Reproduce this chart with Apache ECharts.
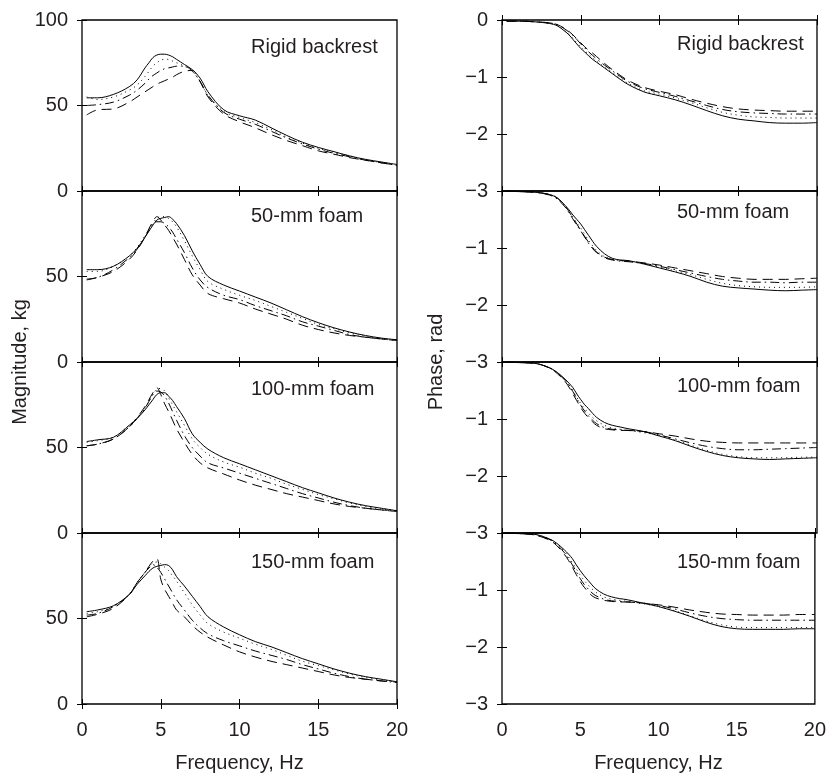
<!DOCTYPE html>
<html>
<head>
<meta charset="utf-8">
<script src="https://cdn.jsdelivr.net/npm/echarts@6/dist/echarts.min.js"></script>
<style>html,body{margin:0;padding:0;background:#fff;}#chart{width:829px;height:776px;}</style>
</head>
<body>
<div id="chart"></div>
<script>
// Frequency grid (Hz)
const freq = [0.3, 1, 2, 3, 3.5, 4, 4.25, 4.5, 4.75, 5, 5.25, 5.5, 5.75, 6, 6.5, 7, 7.5, 8, 9, 10, 11, 12, 13, 14, 15, 16, 17, 18, 19, 20];

const panelTitles = ['Rigid backrest', '50-mm foam', '100-mm foam', '150-mm foam'];
const magTicks = [0, 50, 100];
const phaseTicks = [-3, -2, -1, 0];
const freqTicks = [0, 5, 10, 15, 20];

// Magnitude, kg
const magRigidSolid   = [54.5, 54.5, 56.5, 61, 65, 72, 75, 78, 79.5, 80, 80, 79.5, 78.5, 77, 74, 71, 66, 58, 47.5, 44, 41.5, 37, 32.5, 28.5, 25.5, 23, 20.5, 18.5, 17, 15.5];
const magRigidDotted  = [55, 53.5, 55, 59, 62, 67, 70, 73, 75, 76.5, 77, 77, 76, 75, 73, 70, 64, 56, 46.5, 43, 40, 36, 31.5, 28, 25, 22.5, 20.5, 18.5, 16.5, 15];
const magRigidDashDot = [50, 50.5, 52, 56, 59, 63, 65.5, 67.5, 69, 70.5, 71.5, 72, 72.5, 73, 73, 70, 64, 56, 46, 42, 39, 35, 31, 27.5, 24.5, 22, 20, 18, 16.5, 15];
const magRigidDashed  = [44.5, 47.5, 48, 52, 55, 58, 59.5, 61, 62.5, 63.5, 64.5, 65.5, 66.5, 68, 70, 70.5, 64, 55, 45, 40.5, 37, 33, 29.5, 26.5, 23.5, 21.5, 19.5, 18, 16.5, 15];

const mag50Solid   = [54, 54, 56, 62, 66.5, 73, 76.5, 80, 83, 84, 84.5, 85, 83.5, 81, 74, 65, 57, 50, 45, 41.5, 38, 34.5, 30.5, 26.5, 23, 20, 17.5, 15.5, 14, 13];
const mag50Dotted  = [53, 53, 56, 62, 67, 74, 77.5, 81, 84, 85, 85, 84, 82, 79, 71, 62, 54, 47, 42.5, 39, 36, 32.5, 29, 25.5, 22, 19.5, 17, 15, 13.5, 12.5];
const mag50DashDot = [48.5, 49.5, 54, 61, 66, 73, 77, 80.5, 82, 82, 81, 79, 76, 72, 64, 55, 48, 43.5, 39, 36.5, 33, 30, 27, 23.5, 21, 18.5, 16, 14.5, 13.5, 12.5];
const mag50Dashed  = [48, 49.5, 53, 60, 65.5, 73, 78, 82, 85, 83, 80, 77, 73, 69, 60, 51, 45, 40, 37, 34.5, 31, 28, 25, 21.5, 19, 17, 15.5, 14.5, 13.5, 13];

const mag100Solid   = [53.5, 54.5, 56, 63, 67, 72, 75, 78, 81, 82, 82, 80, 77.5, 74, 67, 58, 53, 49, 44, 40.5, 37, 33.5, 30, 26.5, 23.5, 20.5, 18, 16, 14.5, 13];
const mag100Dotted  = [53, 54, 56, 63, 67.5, 73, 77, 81, 84, 84.5, 83, 79, 75, 71, 63, 55, 50, 46, 41.5, 38.5, 35, 32, 28.5, 25.5, 22.5, 20, 17.5, 15.5, 14, 13];
const mag100DashDot = [51, 52, 55, 62, 67, 73, 77, 81, 83, 82.5, 80, 76, 71, 66, 57, 50, 45, 41, 38, 35, 32, 29, 26, 23, 20.5, 18, 16, 14.5, 13.5, 12.5];
const mag100Dashed  = [51, 52, 55, 62, 67.5, 74, 78, 82, 85, 81, 75.5, 71, 66, 61, 53, 46, 41, 38, 34.5, 31, 28, 25.5, 23, 21, 19, 17, 15.5, 14.5, 13.5, 13];

const mag150Solid   = [54, 55, 57.5, 64, 70, 75, 77.5, 79.5, 80.5, 81, 81.5, 81, 78.5, 74.5, 69, 63, 57, 51, 45, 40.5, 36.5, 33.5, 30, 26.5, 23.5, 20.5, 18, 16, 14.5, 13];
const mag150Dotted  = [53, 54, 57, 64, 71, 77, 80, 82.5, 83, 82, 80, 78, 75, 72, 65, 58, 52, 47, 42, 38.5, 35, 32, 28.5, 25, 22.5, 20, 17.5, 15.5, 14, 13];
const mag150DashDot = [52, 53, 57, 64, 71, 77, 79.5, 81.5, 80, 77, 73, 69, 65, 61, 55, 49, 44.5, 41, 37, 34, 31, 28.5, 26, 23, 20.5, 18, 16, 14.5, 13.5, 12.5];
const mag150Dashed  = [51, 52.5, 56, 64, 71, 77, 80.5, 83.5, 85, 73, 67, 63, 59, 55, 51, 46, 42, 39, 34.5, 30.5, 27.5, 25, 23, 21, 19, 17, 15.5, 14.5, 13.5, 12.8];

// Phase, rad
const phRigidSolid   = [-0.02, -0.02, -0.03, -0.06, -0.1, -0.2, -0.26, -0.34, -0.42, -0.5, -0.56, -0.63, -0.69, -0.74, -0.84, -0.94, -1.04, -1.13, -1.26, -1.33, -1.4, -1.49, -1.59, -1.68, -1.74, -1.77, -1.8, -1.81, -1.81, -1.8];
const phRigidDotted  = [-0.02, -0.02, -0.03, -0.06, -0.1, -0.19, -0.25, -0.32, -0.4, -0.47, -0.54, -0.6, -0.66, -0.72, -0.82, -0.92, -1.02, -1.11, -1.24, -1.3, -1.37, -1.45, -1.54, -1.62, -1.67, -1.7, -1.71, -1.72, -1.72, -1.72];
const phRigidDashDot = [-0.02, -0.02, -0.03, -0.05, -0.08, -0.16, -0.21, -0.27, -0.34, -0.42, -0.49, -0.56, -0.62, -0.68, -0.79, -0.89, -0.99, -1.08, -1.2, -1.27, -1.34, -1.42, -1.5, -1.57, -1.61, -1.63, -1.64, -1.65, -1.65, -1.65];
const phRigidDashed  = [-0.02, -0.02, -0.03, -0.05, -0.08, -0.15, -0.2, -0.26, -0.33, -0.4, -0.47, -0.53, -0.58, -0.64, -0.76, -0.87, -0.97, -1.06, -1.18, -1.25, -1.31, -1.39, -1.46, -1.52, -1.56, -1.58, -1.59, -1.6, -1.6, -1.6];

const ph50Solid   = [0, -0.01, -0.02, -0.06, -0.12, -0.25, -0.33, -0.42, -0.5, -0.58, -0.68, -0.78, -0.88, -0.97, -1.1, -1.18, -1.21, -1.22, -1.28, -1.35, -1.42, -1.5, -1.6, -1.67, -1.7, -1.72, -1.74, -1.75, -1.74, -1.73];
const ph50Dotted  = [0, -0.01, -0.02, -0.06, -0.13, -0.27, -0.36, -0.46, -0.56, -0.65, -0.76, -0.87, -0.96, -1.04, -1.15, -1.2, -1.22, -1.23, -1.28, -1.34, -1.4, -1.47, -1.55, -1.62, -1.66, -1.68, -1.69, -1.69, -1.69, -1.68];
const ph50DashDot = [0, -0.01, -0.02, -0.07, -0.14, -0.28, -0.38, -0.49, -0.6, -0.7, -0.81, -0.92, -1.01, -1.08, -1.17, -1.21, -1.23, -1.24, -1.27, -1.32, -1.38, -1.44, -1.5, -1.55, -1.58, -1.6, -1.6, -1.61, -1.6, -1.6];
const ph50Dashed  = [0, -0.01, -0.02, -0.06, -0.12, -0.26, -0.36, -0.47, -0.58, -0.69, -0.8, -0.9, -0.99, -1.07, -1.16, -1.2, -1.22, -1.23, -1.26, -1.3, -1.35, -1.4, -1.45, -1.5, -1.53, -1.55, -1.55, -1.55, -1.54, -1.53];

const ph100Solid   = [0, -0.01, -0.02, -0.1, -0.18, -0.3, -0.37, -0.45, -0.56, -0.66, -0.75, -0.82, -0.9, -0.97, -1.06, -1.11, -1.14, -1.17, -1.22, -1.3, -1.38, -1.48, -1.57, -1.64, -1.68, -1.7, -1.71, -1.7, -1.69, -1.68];
const ph100Dotted  = [0, -0.01, -0.02, -0.1, -0.19, -0.32, -0.4, -0.5, -0.62, -0.73, -0.82, -0.9, -0.97, -1.03, -1.11, -1.16, -1.18, -1.2, -1.24, -1.29, -1.37, -1.46, -1.55, -1.62, -1.66, -1.68, -1.68, -1.68, -1.67, -1.67];
const ph100DashDot = [0, -0.01, -0.02, -0.1, -0.19, -0.32, -0.41, -0.52, -0.64, -0.76, -0.86, -0.95, -1.02, -1.08, -1.15, -1.18, -1.19, -1.2, -1.22, -1.28, -1.35, -1.42, -1.48, -1.52, -1.54, -1.54, -1.53, -1.52, -1.51, -1.5];
const ph100Dashed  = [0, -0.01, -0.02, -0.1, -0.2, -0.34, -0.44, -0.56, -0.68, -0.8, -0.9, -0.98, -1.05, -1.11, -1.17, -1.19, -1.2, -1.2, -1.22, -1.26, -1.3, -1.35, -1.39, -1.41, -1.42, -1.42, -1.42, -1.42, -1.42, -1.42];

const ph150Solid   = [0, -0.01, -0.02, -0.1, -0.18, -0.3, -0.37, -0.45, -0.56, -0.66, -0.75, -0.83, -0.91, -0.98, -1.07, -1.12, -1.15, -1.17, -1.23, -1.29, -1.37, -1.46, -1.56, -1.64, -1.68, -1.69, -1.69, -1.69, -1.68, -1.68];
const ph150Dotted  = [0, -0.01, -0.02, -0.1, -0.19, -0.33, -0.42, -0.52, -0.63, -0.74, -0.83, -0.91, -0.98, -1.04, -1.12, -1.16, -1.18, -1.2, -1.24, -1.29, -1.36, -1.45, -1.54, -1.61, -1.65, -1.66, -1.66, -1.66, -1.66, -1.66];
const ph150DashDot = [0, -0.01, -0.03, -0.11, -0.2, -0.35, -0.45, -0.56, -0.68, -0.8, -0.9, -0.98, -1.05, -1.1, -1.16, -1.19, -1.2, -1.21, -1.23, -1.27, -1.33, -1.4, -1.46, -1.5, -1.52, -1.53, -1.53, -1.53, -1.53, -1.53];
const ph150Dashed  = [0, -0.01, -0.03, -0.12, -0.22, -0.38, -0.48, -0.6, -0.73, -0.85, -0.95, -1.03, -1.1, -1.14, -1.18, -1.2, -1.21, -1.21, -1.23, -1.26, -1.3, -1.35, -1.39, -1.42, -1.43, -1.44, -1.44, -1.44, -1.43, -1.43];

const magPanels = [
  [magRigidSolid, magRigidDotted, magRigidDashDot, magRigidDashed],
  [mag50Solid, mag50Dotted, mag50DashDot, mag50Dashed],
  [mag100Solid, mag100Dotted, mag100DashDot, mag100Dashed],
  [mag150Solid, mag150Dotted, mag150DashDot, mag150Dashed]
];
const phPanels = [
  [phRigidSolid, phRigidDotted, phRigidDashDot, phRigidDashed],
  [ph50Solid, ph50Dotted, ph50DashDot, ph50Dashed],
  [ph100Solid, ph100Dotted, ph100DashDot, ph100Dashed],
  [ph150Solid, ph150Dotted, ph150DashDot, ph150Dashed]
];

// ---- layout / style ----
const FONT = '"Liberation Sans", Arial, Helvetica, sans-serif';
const TXT = '#231f20';
const FS = 20;
const lineTypes = ['solid', [1, 4], [9, 4, 1.5, 4], [10, 6]];
const colLeft = [82, 502];
const gridW = 315;
const gridTop = 20;
const gridH = 171;
const titleDy = [[29, 27, 29, 31], [26, 23, 26, 31]];

const grids = [], xAxes = [], yAxes = [], series = [], graphics = [];
const pair = (arr) => arr.map((v, i) => [freq[i], v]);
const fmtMinus = (v) => String(v).replace('-', '\u2212');

for (let c = 0; c < 2; c++) {
  for (let r = 0; r < 4; r++) {
    const g = grids.length;
    grids.push({
      left: colLeft[c], top: gridTop + r * gridH, width: gridW, height: gridH,
      show: true, borderColor: '#000', borderWidth: 1.3, backgroundColor: 'transparent'
    });
    const isBottom = r === 3;
    const xb = xAxes.length;
    xAxes.push({
      type: 'value', gridIndex: g, position: 'bottom', min: freqTicks[0], max: freqTicks[freqTicks.length - 1], interval: 5,
      axisLine: { show: false },
      axisTick: { show: true, inside: true, length: 5, lineStyle: { color: '#000', width: 1 } },
      splitLine: { show: false },
      axisLabel: { show: isBottom, margin: 16, color: TXT, fontSize: FS, fontFamily: FONT, showMinLabel: true, showMaxLabel: true },
      name: isBottom ? 'Frequency, Hz' : '', nameLocation: 'middle', nameGap: 49,
      nameTextStyle: { color: TXT, fontSize: FS, fontFamily: FONT }
    });
    xAxes.push({
      type: 'value', gridIndex: g, position: 'top', min: 0, max: 20, interval: 5,
      axisLine: { show: false },
      axisTick: { show: true, inside: true, length: 5, lineStyle: { color: '#000', width: 1 } },
      splitLine: { show: false }, axisLabel: { show: false }
    });
    const yl = yAxes.length;
    const isMag = c === 0;
    const ymin = isMag ? magTicks[0] : phaseTicks[0];
    const ymax = isMag ? magTicks[magTicks.length - 1] : phaseTicks[phaseTicks.length - 1];
    const yint = isMag ? 50 : 1;
    yAxes.push({
      type: 'value', gridIndex: g, position: 'left', min: ymin, max: ymax, interval: yint,
      axisLine: { show: false },
      axisTick: { show: true, inside: true, length: 5, lineStyle: { color: '#000', width: 1 } },
      splitLine: { show: false },
      axisLabel: {
        show: true, margin: 14, color: TXT, fontSize: FS, fontFamily: FONT, showMinLabel: true, showMaxLabel: true,
        formatter: (v) => (v === ymax && r > 0) ? '' : fmtMinus(v)
      }
    });
    yAxes.push({
      type: 'value', gridIndex: g, position: 'right', min: ymin, max: ymax, interval: yint,
      axisLine: { show: false },
      axisTick: { show: true, inside: true, length: 5, lineStyle: { color: '#000', width: 1 } },
      splitLine: { show: false }, axisLabel: { show: false }
    });
    const sets = isMag ? magPanels[r] : phPanels[r];
    sets.forEach((arr, k) => {
      series.push({
        type: 'line', xAxisIndex: xb, yAxisIndex: yl, data: pair(arr),
        showSymbol: false, symbol: 'none', smooth: 0.35, silent: true,
        lineStyle: { color: '#000', width: 1, type: lineTypes[k] }
      });
    });
    graphics.push({
      type: 'text', left: colLeft[c] + (c === 0 ? 169 : 175), top: gridTop + r * gridH + titleDy[c][r] - 12,
      style: { text: panelTitles[r], fill: TXT, font: FS + 'px ' + FONT }
    });
  }
}

graphics.push({
  type: 'text', x: 20, y: 362, rotation: Math.PI / 2,
  style: { text: 'Magnitude, kg', fill: TXT, font: FS + 'px ' + FONT, textAlign: 'center', textVerticalAlign: 'middle' }
});
graphics.push({
  type: 'text', x: 436, y: 362, rotation: Math.PI / 2,
  style: { text: 'Phase, rad', fill: TXT, font: FS + 'px ' + FONT, textAlign: 'center', textVerticalAlign: 'middle' }
});

const chart = echarts.init(document.getElementById('chart'), null, { renderer: 'canvas' });
chart.setOption({
  animation: false,
  backgroundColor: '#fff',
  grid: grids, xAxis: xAxes, yAxis: yAxes, series: series, graphic: graphics
});
</script>
</body>
</html>
